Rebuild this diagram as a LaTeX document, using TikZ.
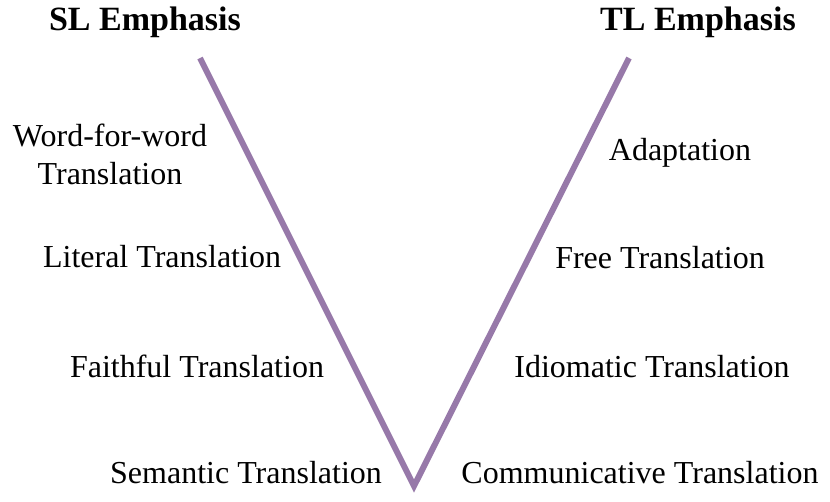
\documentclass[tikz,border=0pt]{standalone}
\usepackage{fontspec}
\setmainfont{Liberation Serif}
\definecolor{vpurple}{RGB}{151,121,169}
\tikzset{
    % Heading style
    emphhead/.style={
        font=\fontsize{34}{40}\selectfont\bfseries,
        inner sep=0pt, anchor=base
    },
    % Translation method label style
    method/.style={
        font=\fontsize{32}{38}\selectfont,
        inner sep=0pt, anchor=base, align=center
    },
    % V line style
    vline/.style={
        line width=6pt, color=vpurple, line join=miter
    }
}
\begin{document}
\begin{tikzpicture}[x=1pt, y=-1pt]
\useasboundingbox (0,0) rectangle (830,501);

% Headings
\node[emphhead] (slhead) at (145,30) {SL Emphasis};
\node[emphhead] (tlhead) at (698,30) {TL Emphasis};

% The V
\coordinate (sltop) at (200,58);
\coordinate (vtip) at (414,486);
\coordinate (tltop) at (629,58);
\draw[vline] (sltop) -- (vtip) -- (tltop);

% SL side
\node[method] (wordforword) at (110,184) {Word-for-word\\Translation};
\node[method] (literal) at (162,267) {Literal Translation};
\node[method] (faithful) at (197,377) {Faithful Translation};
\node[method] (semantic) at (246,483) {Semantic Translation};

% TL side
\node[method] (adaptation) at (680,160) {Adaptation};
\node[method] (free) at (660,268) {Free Translation};
\node[method] (idiomatic) at (652,377) {Idiomatic Translation};
\node[method] (communicative) at (640,483) {Communicative Translation};

\end{tikzpicture}
\end{document}
